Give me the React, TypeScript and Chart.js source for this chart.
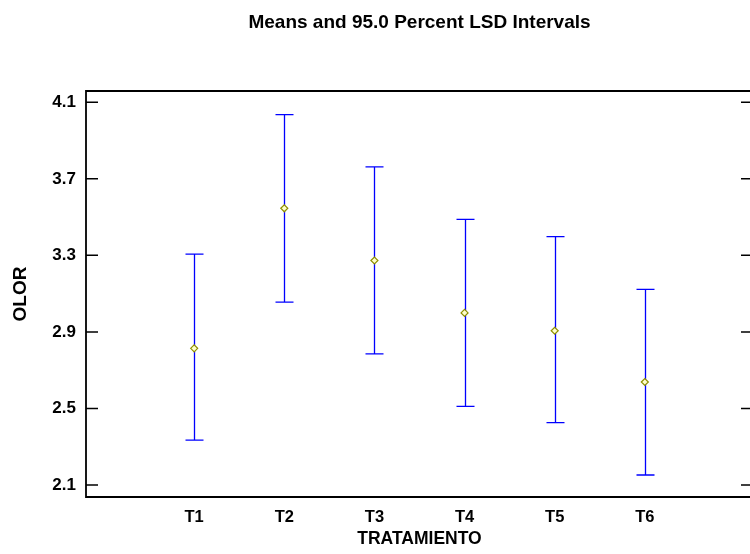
import React, { useEffect, useRef } from "react";
import { Chart, registerables } from "chart.js";

Chart.register(...registerables);

const categories = ["T1", "T2", "T3", "T4", "T5", "T6"];
const means = [2.814, 3.546, 3.273, 2.999, 2.906, 2.638];
const lower = [2.334, 3.056, 2.785, 2.511, 2.426, 2.152];
const upper = [3.306, 4.035, 3.762, 3.488, 3.398, 3.122];
const yTicks = [2.1, 2.5, 2.9, 3.3, 3.7, 4.1];
const chartTitle = "Means and 95.0 Percent LSD Intervals";
const xTitle = "TRATAMIENTO";
const yTitle = "OLOR";

const FONT = "'Liberation Sans', Arial, Helvetica, sans-serif";

const framePlugin = {
  id: "frameAndBars",
  beforeDatasetsDraw(chart: any) {
    const { ctx } = chart;
    const xs = chart.scales.x;
    const ys = chart.scales.y;
    ctx.save();
    ctx.strokeStyle = "#0000ff";
    ctx.lineWidth = 1.3;
    for (let i = 0; i < categories.length; i++) {
      const x = Math.round(xs.getPixelForValue(i + 1)) + 0.5;
      const yl = ys.getPixelForValue(lower[i]);
      const yu = ys.getPixelForValue(upper[i]);
      ctx.beginPath();
      ctx.moveTo(x, yl);
      ctx.lineTo(x, yu);
      ctx.moveTo(x - 9, yl);
      ctx.lineTo(x + 9, yl);
      ctx.moveTo(x - 9, yu);
      ctx.lineTo(x + 9, yu);
      ctx.stroke();
    }
    ctx.restore();
  },
  afterDraw(chart: any) {
    const { ctx, chartArea } = chart;
    const { left, right, top, bottom } = chartArea;
    const ys = chart.scales.y;
    ctx.save();
    ctx.strokeStyle = "#000";
    ctx.lineWidth = 1.8;
    ctx.beginPath();
    ctx.rect(left, top, right - left, bottom - top);
    ctx.stroke();
    ctx.lineWidth = 1.5;
    ctx.beginPath();
    for (const v of yTicks) {
      const y = ys.getPixelForValue(v);
      ctx.moveTo(left, y);
      ctx.lineTo(left + 12, y);
      ctx.moveTo(right, y);
      ctx.lineTo(right - 12, y);
    }
    ctx.stroke();
    ctx.restore();
  },
};

export default function App() {
  const ref = useRef<HTMLCanvasElement | null>(null);
  useEffect(() => {
    if (!ref.current) return;
    const chart = new Chart(ref.current, {
      type: "scatter",
      data: {
        datasets: [
          {
            label: "Means",
            data: means.map((m, i) => ({ x: i + 1, y: m })),
            pointStyle: "rectRot",
            pointRadius: 3.5,
            pointBorderWidth: 1.2,
            pointBorderColor: "#8f8f00",
            pointBackgroundColor: "#ffffcc",
          },
        ],
      },
      options: {
        animation: false,
        responsive: false,
        devicePixelRatio: 1,
        layout: { padding: { left: 0, right: 7, top: 0, bottom: 0 } },
        plugins: {
          legend: { display: false },
          tooltip: { enabled: false },
          title: {
            display: true,
            text: chartTitle,
            fullSize: false,
            color: "#000",
            font: { family: FONT, size: 19, weight: "bold" },
            padding: { top: 11.2, bottom: 57 },
          },
        },
        scales: {
          x: {
            type: "linear",
            min: -0.2,
            max: 7.2,
            grid: { display: false, drawTicks: false },
            border: { display: false },
            afterBuildTicks: (scale: any) => {
              scale.ticks = categories.map((_, i) => ({ value: i + 1 }));
            },
            afterFit: (scale: any) => {
              scale.height = 57;
            },
            ticks: {
              autoSkip: false,
              maxRotation: 0,
              padding: 11,
              color: "#000",
              font: { family: FONT, size: 16.5, weight: "bold" },
              callback: (v: any) => categories[Number(v) - 1] ?? "",
            },
            title: {
              display: true,
              text: xTitle,
              color: "#000",
              font: { family: FONT, size: 17.5, weight: "bold" },
              padding: { top: 0, bottom: 4 },
            },
          },
          y: {
            type: "linear",
            min: 2.037,
            max: 4.159,
            grid: { display: false, drawTicks: false },
            border: { display: false },
            afterBuildTicks: (scale: any) => {
              scale.ticks = yTicks.map((v) => ({ value: v }));
            },
            afterFit: (scale: any) => {
              scale.width = 86;
            },
            ticks: {
              padding: 10,
              color: "#000",
              font: { family: FONT, size: 17, weight: "bold" },
              callback: (v: any) => Number(v).toFixed(1),
            },
            title: {
              display: true,
              text: yTitle,
              color: "#000",
              font: { family: FONT, size: 19, weight: "bold" },
              padding: { top: 9.5, bottom: 0 },
            },
          },
        },
      },
      plugins: [framePlugin],
    } as any);
    return () => chart.destroy();
  }, []);

  return (
    <div
      style={{
        position: "fixed",
        left: 0,
        top: 0,
        width: 750,
        height: 554,
        overflow: "hidden",
        background: "#fff",
      }}
    >
      <canvas ref={ref} width={760} height={554} style={{ display: "block" }} />
    </div>
  );
}
